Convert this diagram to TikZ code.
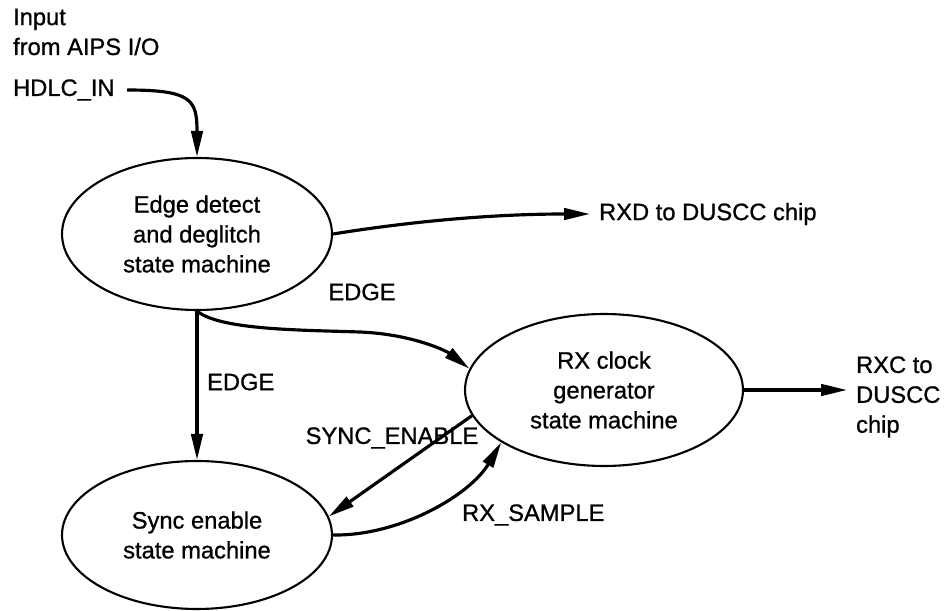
\documentclass[tikz,border=0pt]{standalone}
\usepackage{fontspec}
\setmainfont{Liberation Sans}[FakeBold=0.9]
\usetikzlibrary{positioning, shapes.geometric, arrows.meta}

\tikzset{
  state/.style={draw, ellipse, line width=1.2pt, inner sep=0pt, align=center,
    font=\fontsize{13.5}{17}\selectfont},
  lbl/.style={font=\fontsize{13.5}{17}\selectfont, inner sep=1pt},
  flow/.style={line width=1.8pt, -{Triangle[length=5.2mm, width=2.3mm]}}
}

\begin{document}
\begin{tikzpicture}[x=0.02cm, y=-0.02cm]
    \useasboundingbox (0,0) rectangle (948,611);

    % States
    \node[state, minimum width=5.4cm, minimum height=3.04cm] (edge) at (197,234)
      {Edge detect\\and deglitch\\state machine};
    \node[state, minimum width=5.56cm, minimum height=3.04cm] (rxclk) at (604,390)
      {RX clock\\generator\\state machine};
    \node[state, minimum width=5.4cm, minimum height=2.96cm] (sync) at (197,535)
      {Sync enable\\state machine};

    % Inputs and outputs
    \node[lbl, anchor=west, align=left] (input) at (11,32) {Input\\from AIPS I/O};
    \node[lbl, anchor=west] (hdlc) at (11,90) {HDLC\_IN};
    \node[lbl, anchor=west] (rxd) at (597,214) {RXD to DUSCC chip};
    \node[lbl, anchor=west, align=left] (rxc) at (854,397) {RXC to\\DUSCC\\chip};
    \coordinate (rxdend) at (590,214);
    \coordinate (rxcend) at (847,390);

    % Connections
    \draw[flow, shorten <=6pt] (hdlc.east) .. controls (192,90) and (197,100) .. (edge.north);
    \draw[flow] (edge.east) .. controls (420,220) and (500,214) .. (rxdend);
    \draw[flow] (edge.south) .. controls (220,330) and (300,330) .. (360,332)
      .. controls (410,334) and (445,350) .. (rxclk.171);
    \draw[flow] (edge.south) -- (sync.north);
    \draw[flow] (rxclk.191) -- (sync.8);
    \draw[flow] (sync.east) .. controls (400,536) and (470,495) .. (rxclk.207);
    \draw[flow] (rxclk.east) -- (rxcend);

    % Signal names
    \node[lbl] (edgea) at (362,292) {EDGE};
    \node[lbl, anchor=west] (edgeb) at (205,382) {EDGE};
    \node[lbl] (synclbl) at (392,438) {SYNC\_ENABLE};
    \node[lbl, anchor=west] (samplbl) at (460,515) {RX\_SAMPLE};
\end{tikzpicture}
\end{document}
